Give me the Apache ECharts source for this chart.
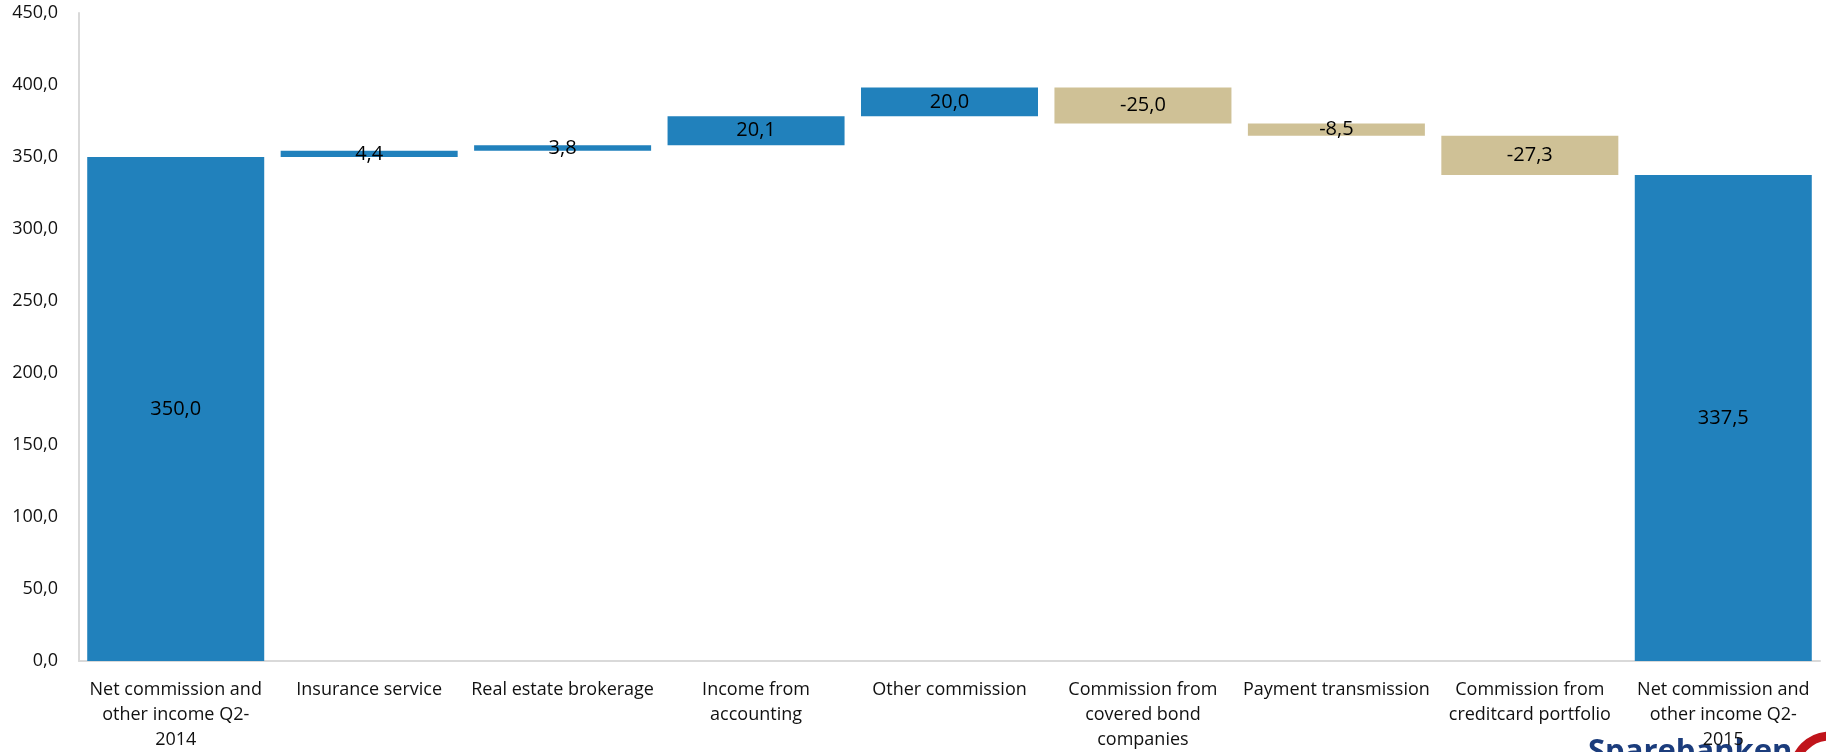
<!DOCTYPE html>
<html>
<head>
<meta charset="utf-8">
<title>Net commission and other income</title>
<script src="https://cdn.jsdelivr.net/npm/echarts@6/dist/echarts.min.js"></script>
<style>
  html, body { margin: 0; padding: 0; background: #ffffff; }
  #chart { width: 1826px; height: 752px; }
</style>
</head>
<body>
<div id="chart"></div>
<script>
// Bridge categories (first and last are totals, the rest are changes)
const categories = [
  'Net commission and\nother income Q2-\n2014',
  'Insurance service',
  'Real estate brokerage',
  'Income from\naccounting',
  'Other commission',
  'Commission from\ncovered bond\ncompanies',
  'Payment transmission',
  'Commission from\ncreditcard portfolio',
  'Net commission and\nother income Q2-\n2015'
];
const startTotal = 350.0;
const changes = [4.4, 3.8, 20.1, 20.0, -25.0, -8.5, -27.3];
const endTotal = 337.5;
const yTicks = { min: 0, max: 450, step: 50 };

const BLUE = '#2181bc';
const TAN = '#cfc196';
const fmt = v => v.toFixed(1).replace('.', ',');

// Floating base + visible segment for each bar
const baseData = [];
const barData = [];
baseData.push(0);
barData.push({ value: startTotal, signed: startTotal, itemStyle: { color: BLUE } });
let running = startTotal;
changes.forEach(d => {
  const next = running + d;
  baseData.push(Math.min(running, next));
  barData.push({ value: Math.abs(d), signed: d, itemStyle: { color: d >= 0 ? BLUE : TAN } });
  running = next;
});
baseData.push(0);
barData.push({ value: endTotal, signed: endTotal, itemStyle: { color: BLUE } });

const chart = echarts.init(document.getElementById('chart'), null, { renderer: 'canvas' });
const FONT = '"Open Sans", "DejaVu Sans", sans-serif';

chart.setOption({
  animation: false,
  textStyle: { fontFamily: FONT },
  grid: { left: 79, right: 6, top: 13, bottom: 91, containLabel: false },
  xAxis: {
    type: 'category',
    data: categories,
    axisLine: { show: true, lineStyle: { color: '#d9d9d9', width: 2 } },
    axisTick: { show: false },
    axisLabel: {
      interval: 0,
      margin: 16,
      color: '#111111',
      fontFamily: FONT,
      fontSize: 18,
      lineHeight: 25
    }
  },
  yAxis: {
    type: 'value',
    min: yTicks.min,
    max: yTicks.max,
    interval: yTicks.step,
    axisLine: { show: true, lineStyle: { color: '#d9d9d9', width: 2 } },
    axisTick: { show: false },
    splitLine: { show: false },
    axisLabel: {
      margin: 21,
      color: '#111111',
      fontFamily: FONT,
      fontSize: 18,
      formatter: v => fmt(v)
    }
  },
  series: [
    {
      name: 'base',
      type: 'bar',
      stack: 'bridge',
      data: baseData,
      itemStyle: { color: 'transparent' },
      barCategoryGap: '8.5%',
      silent: true
    },
    {
      name: 'value',
      type: 'bar',
      stack: 'bridge',
      data: barData,
      barCategoryGap: '8.5%',
      label: {
        show: true,
        position: 'inside',
        color: '#000000',
        fontFamily: FONT,
        fontSize: 20,
        formatter: p => fmt(p.data.signed)
      }
    }
  ],
  graphic: [
    {
      type: 'text',
      left: 1588,
      top: 737,
      style: {
        text: 'Sparebanken',
        fill: '#1b3c7c',
        font: 'bold 31px "Open Sans", sans-serif'
      },
      z: 0
    },
    {
      type: 'circle',
      shape: { cx: 1830, cy: 772, r: 36 },
      style: { fill: 'none', stroke: '#c0141b', lineWidth: 9 },
      z: 0
    }
  ]
});
</script>
</body>
</html>
